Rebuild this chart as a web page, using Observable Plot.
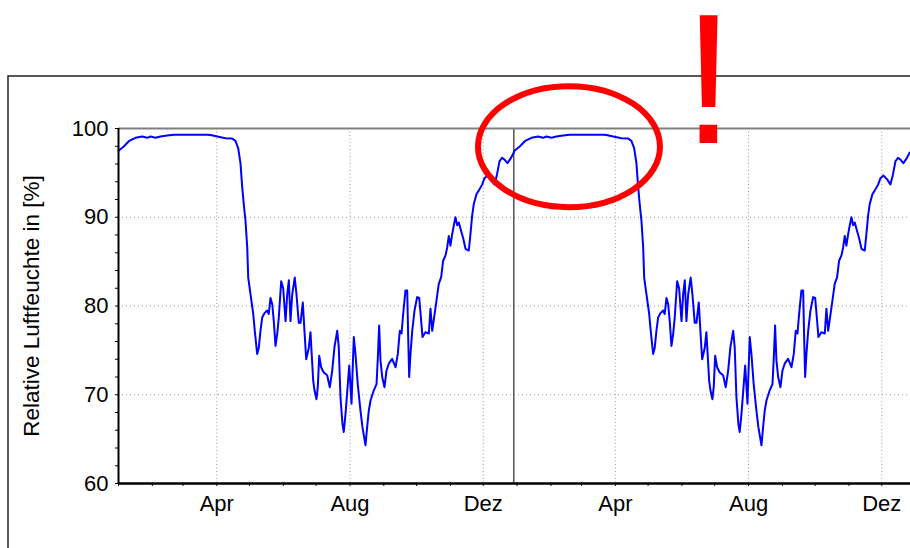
<!DOCTYPE html>
<html>
<head>
<meta charset="utf-8">
<script src="https://cdn.jsdelivr.net/npm/d3@7"></script>
<script src="https://cdn.jsdelivr.net/npm/@observablehq/plot@0.6"></script>
<style>
  html, body { margin: 0; padding: 0; background: #fff; width: 910px; height: 548px; overflow: hidden; }
  #chart svg { display: block; }
</style>
</head>
<body>
<div id="chart"></div>
<script>
// ---- data ----
// day offsets from 1 January of the first year, and relative humidity in %
const days = [0, 4.85, 9.43, 15.57, 21.7, 26.28, 29.3, 33.88, 38.46, 44.6, 50.64, 59.52, 70.51, 81.5, 84.25, 90.38,
  98.0, 104.1, 107.1, 109.6, 111.7, 113.3, 114.7, 116.3, 117.9, 118.8, 120.9, 123.4, 124.8, 127.0, 128.5, 130.0,
  131.6, 133.7, 136.2, 137.6, 139.2, 140.8, 142.2, 143.8, 145.3, 146.8, 149.0, 150.8, 153.0, 154.5, 156.0, 157.5,
  159.1, 161.4, 163.0, 165.1, 166.7, 168.8, 170.3, 171.9, 174.3, 175.8, 178.3, 179.5, 181.3, 182.5, 183.8, 185.6,
  188.0, 191.1, 193.5, 195.7, 197.8, 200.3, 201.7, 203.3, 205.1, 206.3, 207.9, 210.0, 211.3, 212.5, 213.4, 214.3,
  215.5, 217.0, 219.1, 221.6, 223.4, 226.2, 227.7, 229.2, 230.8, 233.8, 236.3, 237.5, 238.7, 239.9, 241.5, 243.6,
  245.4, 247.5, 250.6, 253.7, 255.8, 257.6, 259.2, 260.7, 262.8, 264.4, 265.3, 266.2, 267.4, 269.0, 271.1, 273.5,
  275.4, 277.2, 278.4, 281.1, 284.2, 285.7, 287.3, 288.7, 291.2, 293.3, 295.5, 297.3, 299.5, 301.0, 302.5, 304.0,
  305.6, 307.1, 308.6, 310.2, 311.7, 313.2, 315.7, 317.8, 320.8, 322.3, 323.9, 325.4, 327.8, 329.9, 333.1, 335.2,
  337.9, 341.1, 344.3, 346.6, 348.9, 351.2, 353.5, 356.2, 359.0, 362.0];
const rh = [97.5, 97.97, 98.57, 98.95, 99.1, 98.95, 99.1, 98.95, 99.1, 99.2, 99.3, 99.3, 99.3, 99.3, 99.27, 99.1,
  98.9, 98.87, 98.6, 97.8, 96.1, 93.4, 91.5, 89.6, 86.6, 83.2, 81.3, 79.1, 77.2, 74.6, 75.3, 77.2,
  78.7, 79.2, 79.5, 79.1, 80.9, 80.2, 78.3, 75.5, 76.8, 78.7, 82.8, 82.0, 78.3, 81.3, 82.9, 78.3,
  81.3, 83.2, 81.3, 78.1, 78.1, 80.4, 77.2, 74.0, 75.3, 77.05, 71.6, 70.5, 69.5, 70.85, 74.4, 73.1,
  72.5, 72.2, 70.85, 72.7, 75.4, 77.2, 75.4, 69.7, 66.7, 65.8, 67.85, 71.2, 73.3, 70.85, 69.0, 72.4,
  76.5, 74.6, 71.2, 68.2, 66.35, 64.3, 66.35, 68.2, 69.35, 70.5, 71.2, 74.2, 77.8, 73.9, 72.0, 70.85,
  72.7, 73.5, 74.05, 73.1, 74.6, 77.2, 76.9, 79.1, 81.75, 81.75, 76.5, 72.0, 74.6, 77.2, 79.5, 81.0,
  80.9, 78.3, 76.5, 77.05, 76.9, 79.7, 77.2, 78.4, 80.6, 82.5, 83.25, 85.1, 85.7, 86.6, 87.9, 86.8,
  88.1, 89.1, 90.0, 89.1, 89.4, 88.7, 87.6, 86.45, 86.25, 88.1, 90.2, 91.5, 92.6, 93.0, 93.7, 94.4,
  94.7, 94.3, 93.7, 94.8, 96.3, 96.7, 96.5, 96.1, 96.6, 97.3];
// the same year is drawn a second time, starting at the vertical boundary line
const repeatOffsetDays = 362.6;
const yearBoundaryDay = 362.0;
const domainEndDay = 725.3;

const monthNames = ["Jan", "Feb", "Mär", "Apr", "Mai", "Jun", "Jul", "Aug", "Sep", "Okt", "Nov", "Dez"];
const labeledMonths = ["Apr", "Aug", "Dez"];
const yTicks = [60, 62, 64, 66, 68, 70, 72, 74, 76, 78, 80, 82, 84, 86, 88, 90, 92, 94, 96, 98, 100];
const yLabeled = [60, 70, 80, 90, 100];
const yGrid = [70, 80, 90];
const yLabel = "Relative Luftfeuchte in [%]";

// annotation anchors (data units)
const ellipseDay = 413, ellipseValue = 97.9;
const bangDay = 540.3, bangValue = 98.31;

// ---- build ----
const t0 = Date.UTC(2001, 0, 1);
const DAY = 864e5;
const toDate = d => new Date(t0 + d * DAY);

const series = [
  ...days.map((d, i) => ({date: toDate(d), rh: rh[i]})),
  ...days.map((d, i) => ({date: toDate(d + repeatOffsetDays), rh: rh[i]}))
];
const xStart = toDate(0), xEnd = toDate(domainEndDay);
const monthTicks = d3.utcMonth.range(xStart, xEnd);
const gridDates = monthTicks.filter(d => labeledMonths.includes(monthNames[d.getUTCMonth()]));

const FONT = "'Liberation Sans', Arial, sans-serif";

const plot = Plot.plot({
  width: 910,
  height: 548,
  marginLeft: 118,
  marginRight: 0,
  marginTop: 128,
  marginBottom: 65,
  style: {fontFamily: FONT, fontSize: "22px", background: "white", color: "black"},
  x: {type: "utc", domain: [xStart, xEnd]},
  y: {domain: [60, 100]},
  marks: [
    Plot.ruleY(yGrid, {stroke: "#9a9a9a", strokeWidth: 1, strokeDasharray: "1,3"}),
    Plot.ruleX(gridDates, {stroke: "#9a9a9a", strokeWidth: 1, strokeDasharray: "1,2.5"}),
    Plot.ruleX([toDate(yearBoundaryDay)], {stroke: "#555", strokeWidth: 1.5}),
    Plot.line(series, {x: "date", y: "rh", stroke: "#0000ff", strokeWidth: 2, curve: "linear"}),
    Plot.ruleY([100], {stroke: "#808080", strokeWidth: 2}),
    Plot.ruleY([60], {stroke: "#000", strokeWidth: 2.5}),
    Plot.ruleX([xStart], {stroke: "#000", strokeWidth: 2}),
    Plot.axisY({ticks: yTicks, tickSize: 3, tickPadding: 7, fontSize: 22,
      tickFormat: d => yLabeled.includes(d) ? String(d) : "", label: null}),
    Plot.axisX({ticks: monthTicks, tickSize: 3, tickPadding: 9, fontSize: 22,
      tickFormat: d => { const m = monthNames[d.getUTCMonth()]; return labeledMonths.includes(m) ? m : ""; },
      label: null}),
    Plot.text([yLabel], {frameAnchor: "left", dx: -87, rotate: -90, fontSize: 22.5, fill: "#000",
      textAnchor: "middle", lineAnchor: "middle"}),
    Plot.text([{date: toDate(bangDay), v: bangValue}], {x: "date", y: "v", text: () => "!",
      fontSize: 186, fill: "#ff0000", lineAnchor: "bottom", textAnchor: "middle"})
  ]
});

const svg = d3.select(plot);
// outer frame of the original figure
svg.insert("rect", ":first-child")
  .attr("x", 8).attr("y", 76).attr("width", 2000).attr("height", 2000)
  .attr("fill", "none").attr("stroke", "#222").attr("stroke-width", 1.5);
svg.insert("rect", ":first-child")
  .attr("x", 0).attr("y", 0).attr("width", 910).attr("height", 548).attr("fill", "white");
// red highlight ellipse
const sx = plot.scale("x"), sy = plot.scale("y");
svg.append("ellipse")
  .attr("cx", sx.apply(toDate(ellipseDay))).attr("cy", sy.apply(ellipseValue))
  .attr("rx", 91).attr("ry", 60.5)
  .attr("fill", "none").attr("stroke", "#ff0000").attr("stroke-width", 6);

document.getElementById("chart").appendChild(plot);
</script>
</body>
</html>
